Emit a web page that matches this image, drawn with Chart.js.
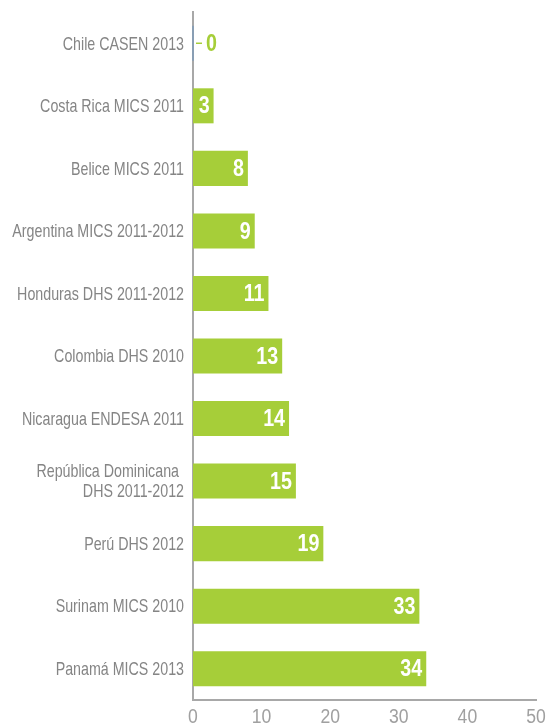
<!DOCTYPE html>
<html>
<head>
<meta charset="utf-8">
<script src="https://cdn.jsdelivr.net/npm/chart.js@4.4.0/dist/chart.umd.min.js"></script>
<style>
  html, body { margin: 0; padding: 0; background: #fff; }
  #wrap { width: 550px; height: 727px; }
</style>
</head>
<body>
<div id="wrap"><canvas id="barChart"></canvas></div>
<script>
const categories = [
    "Chile CASEN 2013",
    "Costa Rica MICS 2011",
    "Belice MICS 2011",
    "Argentina MICS 2011-2012",
    "Honduras DHS 2011-2012",
    "Colombia DHS 2010",
    "Nicaragua ENDESA 2011",
    ["República Dominicana", "DHS 2011-2012"],
    "Perú DHS 2012",
    "Surinam MICS 2010",
    "Panamá MICS 2013"
];
const values = [0, 3, 8, 9, 11, 13, 14, 15, 19, 33, 34];
const xTicks = [0, 10, 20, 30, 40, 50];

const green = "#a6ce39";
const base = "'Liberation Sans', Arial, sans-serif";

// the reference uses a condensed face, so squeeze the text horizontally
function squeezed(ctx, text, x, y, align, sx) {
    ctx.save();
    ctx.translate(x, y);
    ctx.scale(sx, 1);
    ctx.textAlign = align;
    ctx.fillText(text, 0, 0);
    ctx.restore();
}

const textLayer = {
    id: "textLayer",
    afterDatasetsDraw(chart) {
        const ctx = chart.ctx;
        const xs = chart.scales.x;
        const ys = chart.scales.y;
        const meta = chart.getDatasetMeta(0);
        ctx.save();
        ctx.textBaseline = "middle";

        // category labels
        ctx.fillStyle = "#858585";
        ctx.font = "19px " + base;
        chart.data.labels.forEach((lab, i) => {
            const y = ys.getPixelForValue(i);
            const lines = Array.isArray(lab) ? lab : [lab];
            const x = xs.left - 9;
            lines.forEach((ln, k) => {
                const ly = y + (k - (lines.length - 1) / 2) * 20 + 1;
                squeezed(ctx, ln, x - (k === 0 && lines.length > 1 ? 5 : 0), ly, "right", 0.75);
            });
        });

        // x tick labels
        ctx.fillStyle = "#a0a0a0";
        ctx.font = "20px " + base;
        xTicks.forEach(v => {
            squeezed(ctx, String(v), xs.getPixelForValue(v), xs.top + 17, "center", 0.88);
        });

        // value labels
        ctx.font = "bold 24px " + base;
        meta.data.forEach((bar, i) => {
            const v = values[i];
            if (v === 0) {
                const h = bar.height;
                ctx.strokeStyle = "#7f9bb8";
                ctx.lineWidth = 1.5;
                ctx.beginPath();
                ctx.moveTo(bar.base, bar.y - h / 2);
                ctx.lineTo(bar.base, bar.y + h / 2);
                ctx.stroke();
                ctx.strokeStyle = green;
                ctx.beginPath();
                ctx.moveTo(bar.x + 3, bar.y);
                ctx.lineTo(bar.x + 9, bar.y);
                ctx.stroke();
                ctx.fillStyle = green;
                squeezed(ctx, String(v), bar.x + 13, bar.y + 1, "left", 0.82);
            } else {
                ctx.fillStyle = "#fff";
                squeezed(ctx, String(v), bar.x - 4, bar.y + 1, "right", 0.82);
            }
        });
        ctx.restore();
    }
};

new Chart(document.getElementById("barChart"), {
    type: "bar",
    data: {
        labels: categories,
        datasets: [{
            data: values,
            backgroundColor: green,
            categoryPercentage: 1,
            barPercentage: 0.56
        }]
    },
    options: {
        indexAxis: "y",
        responsive: true,
        maintainAspectRatio: false,
        animation: false,
        layout: {
            padding: { top: 12, right: 14, left: 0, bottom: 0 }
        },
        scales: {
            x: {
                min: 0,
                max: 50,
                afterFit: s => { s.height = 27; },
                grid: { display: false, drawTicks: false },
                border: { color: "#a8a8a8", width: 2 },
                ticks: { display: false, stepSize: 10 }
            },
            y: {
                afterFit: s => { s.width = 193; },
                grid: { display: false, drawTicks: false },
                border: { color: "#a8a8a8", width: 2 },
                ticks: { display: false }
            }
        },
        plugins: {
            legend: { display: false },
            tooltip: { enabled: false }
        }
    },
    plugins: [textLayer]
});
</script>
</body>
</html>
